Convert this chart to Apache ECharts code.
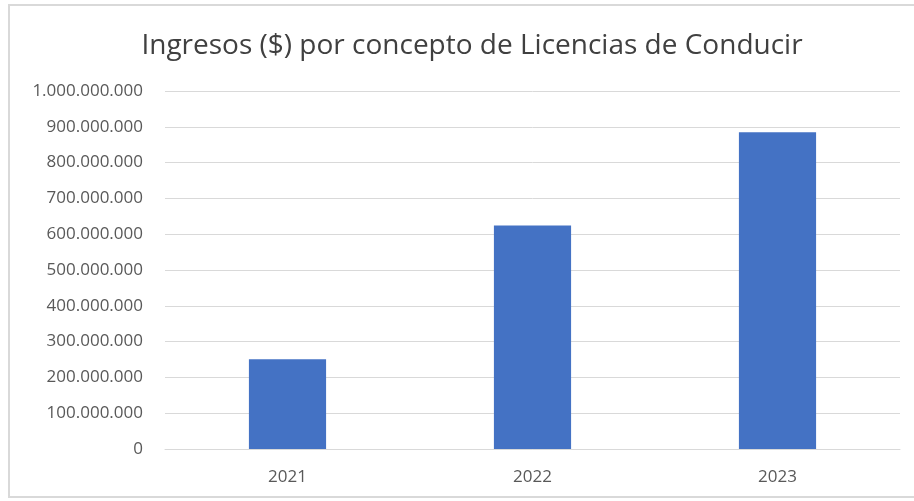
<!DOCTYPE html>
<html>
<head>
<meta charset="utf-8">
<script src="https://cdn.jsdelivr.net/npm/echarts@6/dist/echarts.min.js"></script>
<style>
  html, body { margin: 0; padding: 0; background: #fff; overflow: hidden; }
  #chart { position: absolute; left: 8px; top: 4px; width: 910px; height: 494px;
           border: 2px solid #d9d9d9; box-sizing: border-box; }
</style>
</head>
<body>
<div id="chart"></div>
<script>
const years = ['2021', '2022', '2023'];
const ingresos = [251000000, 624000000, 885000000];

function fmt(v) {
  return String(v).replace(/\B(?=(\d{3})+(?!\d))/g, '.');
}

let myChart = echarts.init(document.getElementById('chart'));
option = {
  title: {
    text: 'Ingresos ($) por concepto de Licencias de Conducir',
    left: 457,
    textAlign: 'center',
    top: 21,
    textStyle: { fontFamily: 'Open Sans', fontWeight: 'normal', fontSize: 28, color: '#404040' }
  },
  grid: { left: 155, right: 16, top: 85, bottom: 47 },
  xAxis: {
    type: 'category',
    data: years,
    axisTick: { show: false },
    axisLine: { lineStyle: { color: '#d9d9d9', width: 1 } },
    axisLabel: { color: '#595959', fontFamily: 'Open Sans', fontSize: 17, margin: 20 }
  },
  yAxis: {
    type: 'value',
    min: 0,
    max: 1000000000,
    interval: 100000000,
    axisLine: { show: false },
    axisTick: { show: false },
    splitLine: { lineStyle: { color: '#d9d9d9', width: 1 } },
    axisLabel: {
      color: '#595959', fontFamily: 'Open Sans', fontSize: 17, margin: 22,
      formatter: function (v) { return fmt(v); }
    }
  },
  series: [{
    type: 'bar',
    data: ingresos,
    barWidth: '31.5%',
    itemStyle: { color: '#4472c4' }
  }]
};
myChart.setOption(option);
</script>
</body>
</html>
